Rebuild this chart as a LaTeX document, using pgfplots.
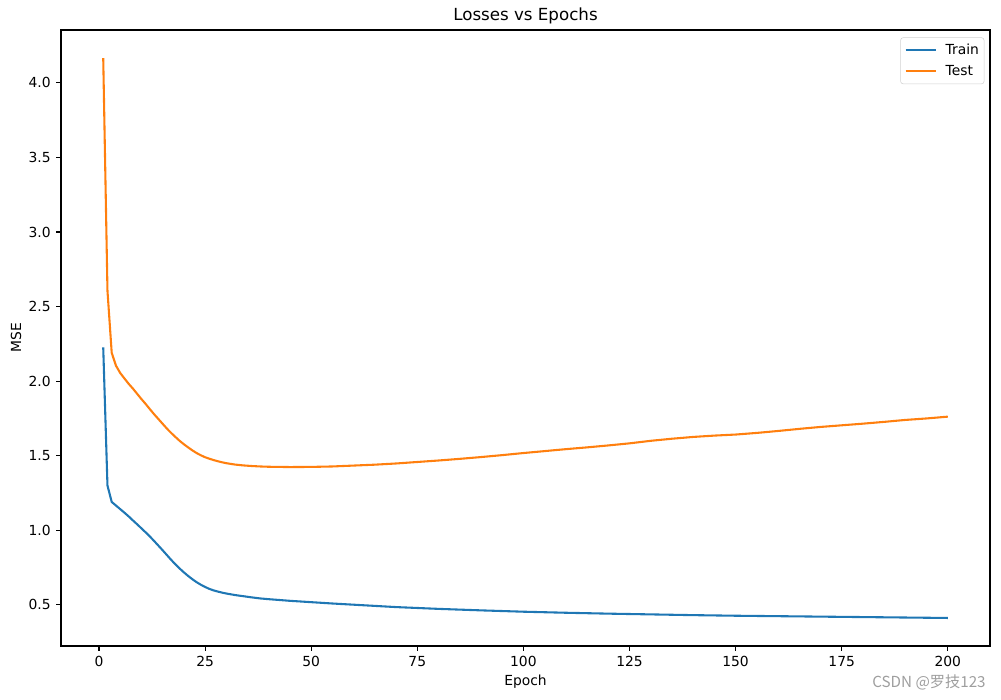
\documentclass[border=0pt]{standalone}
\usepackage{fontspec}
\setmainfont{DejaVu Sans}
\newfontfamily\cjk{Noto Sans CJK SC}
\usepackage{pgfplots}
\usepackage{pgfplotstable}
\pgfplotsset{compat=1.18}

\definecolor{mplblue}{HTML}{1F77B4}
\definecolor{mplorange}{HTML}{FF7F0E}

% epoch vs MSE
\pgfplotstableread{
epoch mse
1 2.226
2 1.300
3 1.190
4 1.166
5 1.142
6 1.118
7 1.093
8 1.066
9 1.040
10 1.013
11 0.986
12 0.958
13 0.928
14 0.897
15 0.866
16 0.834
17 0.802
18 0.772
19 0.744
20 0.718
21 0.694
22 0.672
23 0.652
24 0.635
25 0.620
26 0.607
27 0.597
28 0.589
29 0.582
30 0.576
32 0.566
34 0.558
36 0.550
38 0.543
40 0.538
45 0.527
50 0.518
55 0.509
60 0.501
65 0.493
70 0.485
80 0.473
90 0.463
100 0.454
110 0.447
120 0.441
130 0.436
140 0.431
150 0.427
160 0.424
170 0.421
180 0.418
190 0.415
200 0.412
}\trainloss

\pgfplotstableread{
epoch mse
1 4.167
2 2.606
3 2.190
4 2.104
5 2.055
6 2.018
7 1.982
8 1.950
9 1.915
10 1.880
11 1.847
12 1.812
13 1.778
14 1.746
15 1.714
16 1.682
17 1.653
18 1.626
19 1.600
20 1.577
21 1.556
22 1.536
23 1.518
24 1.503
25 1.490
26 1.480
27 1.471
28 1.463
29 1.456
30 1.450
32 1.441
34 1.435
36 1.431
38 1.428
40 1.426
45 1.424
50 1.425
55 1.428
60 1.434
65 1.440
70 1.448
75 1.458
80 1.468
85 1.479
90 1.491
95 1.504
100 1.518
105 1.531
110 1.544
115 1.556
120 1.569
125 1.583
130 1.600
135 1.614
140 1.626
145 1.635
150 1.642
155 1.653
160 1.666
165 1.680
170 1.693
175 1.704
180 1.715
185 1.727
190 1.740
195 1.750
200 1.762
}\testloss

\begin{document}
\begin{tikzpicture}
\begin{axis}[
    scale only axis,
    width=696.75pt, height=462pt,
    xmin=-8.95, xmax=209.95,
    ymin=0.224, ymax=4.355,
    xtick={0,25,...,200},
    ytick={0.5,1.0,1.5,2.0,2.5,3.0,3.5,4.0},
    yticklabel style={/pgf/number format/fixed, /pgf/number format/fixed zerofill,
        /pgf/number format/precision=1, /tikz/xshift=-0.6pt},
    /pgf/number format/assume math mode=true,
    tick align=outside,
    major tick length=3.65pt,
    xtick pos=bottom, ytick pos=left,
    axis line style={line width=0.83pt},
    every tick/.style={black, line width=0.83pt},
    tick label style={font=\fontsize{10.4}{12.5}\selectfont},
    xticklabel style={/tikz/yshift=-0.6pt},
    xlabel={Epoch},
    xlabel style={font=\fontsize{10.4}{12.5}\selectfont, at={(axis description cs:0.5,-0.0584)}, anchor=center},
    ylabel={MSE},
    ylabel style={font=\fontsize{10.4}{12.5}\selectfont, at={(axis description cs:-0.0484,0.5)}, anchor=center},
    legend style={at={(axis description cs:0.9939,0.988)}, anchor=north east,
        draw=black!18, rounded corners=2pt, font=\fontsize{10.4}{12.5}\selectfont,
        inner xsep=3pt, inner ysep=2.8pt, row sep=2.6pt,
        nodes={inner xsep=0.8pt},
        /tikz/every odd column/.append style={column sep=6pt}},
    legend cell align=left,
    legend image code/.code={\draw[#1] (0pt,0pt) -- (22.5pt,0pt);},
]
\addplot[mplblue, line width=1.56pt] table[x=epoch, y=mse] {\trainloss};
\addlegendentry{Train}
\addplot[mplorange, line width=1.56pt] table[x=epoch, y=mse] {\testloss};
\addlegendentry{Test}
\end{axis}
\node[font=\fontsize{12.5}{15}\selectfont, anchor=center]
    at ([yshift=10.5pt]current axis.north) {Losses vs Epochs};
\node[font={\cjk\fontsize{11.4}{13.5}\selectfont}, text=black!38, anchor=center]
    at ([xshift=651pt, yshift=-27pt]current axis.south west) {CSDN @罗技123};
\pgfresetboundingbox
\path[use as bounding box] ([xshift=-45.75pt, yshift=-39.75pt]current axis.south west)
    rectangle ([xshift=8.25pt, yshift=22.5pt]current axis.north east);
\end{tikzpicture}
\end{document}
